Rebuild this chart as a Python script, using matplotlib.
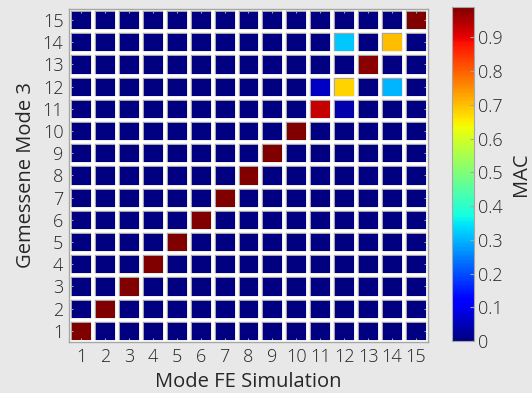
import numpy as np
import matplotlib
matplotlib.use("Agg")
import matplotlib.pyplot as plt

plt.rcParams["font.family"] = ["Open Sans", "DejaVu Sans"]
plt.rcParams["font.weight"] = "light"

# mode numbers
modes_fe = list(range(1, 16))
modes_meas = list(range(1, 16))

# MAC on the diagonal (measured mode i vs FE mode i)
diag_mac = [0.99, 0.99, 0.99, 0.99, 0.99, 0.99, 0.99, 0.99, 0.99, 0.99,
            0.93, 0.68, 0.98, 0.70, 0.99]

# notable off-diagonal entries: (measured mode, FE mode, MAC)
off_meas = [11, 12, 12, 14]
off_fe = [12, 11, 14, 12]
off_mac = [0.04, 0.06, 0.30, 0.32]

BG = "#e8e8e8"
INK = "#262626"
EDGE = "#a6a6a6"

mac = np.zeros((len(modes_meas), len(modes_fe)))
for i, v in enumerate(diag_mac):
    mac[i, i] = v
for r, c, v in zip(off_meas, off_fe, off_mac):
    mac[r - 1, c - 1] = v

fig = plt.figure(figsize=(5.32, 3.93), dpi=100)
fig.patch.set_facecolor(BG)

ax = fig.add_axes([0.1297, 0.1298, 0.6748, 0.8473])
edges_x = np.arange(0.5, len(modes_fe) + 1, 1.0)
edges_y = np.arange(0.5, len(modes_meas) + 1, 1.0)
mesh = ax.pcolormesh(edges_x, edges_y, mac, cmap="jet", vmin=0, vmax=mac.max(),
                     edgecolors=EDGE, linewidth=3.6)
ax.vlines(edges_x, 0.5, 15.5, color="white", lw=2.6, zorder=3)
ax.hlines(edges_y, 0.5, 15.5, color="white", lw=2.6, zorder=3)
ax.set_xlim(0.5, 15.5)
ax.set_ylim(0.5, 15.5)
ax.set_xticks(modes_fe)
ax.set_yticks(modes_meas)
ax.tick_params(direction="in", length=3, color=EDGE, labelsize=13, labelcolor=INK,
               top=True, right=True, pad=4)
for s in ax.spines.values():
    s.set_color(EDGE)
    s.set_linewidth(1.0)
    s.set_zorder(4)
ax.set_xlabel("Mode FE Simulation", fontsize=14.5, color=INK, labelpad=5)
ax.set_ylabel("Gemessene Mode 3", fontsize=14.5, color=INK, labelpad=5)

cax = fig.add_axes([0.8496, 0.1323, 0.0414, 0.85])
cb = fig.colorbar(mesh, cax=cax)
cb.set_ticks([0, 0.1, 0.2, 0.3, 0.4, 0.5, 0.6, 0.7, 0.8, 0.9])
cb.set_ticklabels(["0", "0.1", "0.2", "0.3", "0.4", "0.5", "0.6", "0.7", "0.8", "0.9"])
cb.ax.tick_params(direction="in", length=3, color=EDGE, labelsize=13, labelcolor=INK, pad=3)
cb.outline.set_edgecolor(EDGE)
cb.set_label("MAC", fontsize=14.5, color=INK, labelpad=6)

fig.savefig("out.png", dpi=100, facecolor=BG)
